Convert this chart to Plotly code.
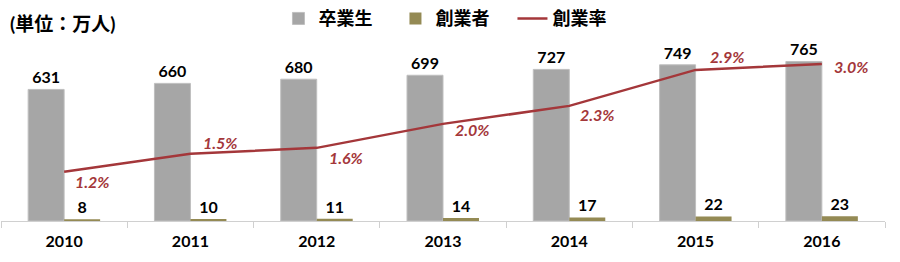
import plotly.graph_objects as go

years = ["2010", "2011", "2012", "2013", "2014", "2015", "2016"]
graduates = [631, 660, 680, 699, 727, 749, 765]
founders = [8, 10, 11, 14, 17, 22, 23]
rate = [1.2, 1.5, 1.6, 2.0, 2.3, 2.9, 3.0]

# styling: label pixel offsets for rate labels (dx, dy)
label_offsets = [(28, -10), (30, 11), (29, -10), (29, -6), (28, -9), (32, 13), (30, -3)]

FONT = "Lato, 'Noto Sans CJK JP', sans-serif"
GRAY = "#A6A6A6"
OLIVE = "#948A54"
RED = "#A4373A"

H_PAPER = 221.0   # paper height (262 - bottom margin)
DOM_TOP = 196.0 / H_PAPER

fig = go.Figure()
fig.add_trace(go.Bar(
    x=years, y=graduates, name="卒業生",
    marker=dict(color=GRAY, line=dict(color="#BFBFBF", width=1)),
    text=[str(v) for v in graduates], textposition="outside",
    textfont=dict(family=FONT, size=16, color="black", weight="bold"),
    cliponaxis=False,
))
fig.add_trace(go.Bar(
    x=years, y=founders, name="創業者",
    marker=dict(color=OLIVE, line=dict(width=0)),
    text=[str(v) for v in founders], textposition="outside",
    textfont=dict(family=FONT, size=16, color="black", weight="bold"),
    cliponaxis=False,
))
fig.add_trace(go.Scatter(
    x=years, y=rate, name="創業率", mode="lines", yaxis="y2",
    line=dict(color=RED, width=2.5),
))

for i, (r, (dx, dy)) in enumerate(zip(rate, label_offsets)):
    fig.add_annotation(
        x=i, y=r, xref="x", yref="y2", text=f"{r:.1f}%", showarrow=False,
        xshift=dx, yshift=dy,
        font=dict(family=FONT, size=16, color=RED, weight="bold", style="italic"),
    )

fig.add_annotation(
    xref="paper", yref="paper", x=0.008, y=1 - 20 / H_PAPER, xanchor="left", yanchor="middle",
    text="(単位：万人)", showarrow=False,
    font=dict(family=FONT, size=19, color="black", weight="bold"),
)

fig.update_layout(
    width=900, height=262,
    margin=dict(l=1, r=15, t=0, b=41),
    paper_bgcolor="white", plot_bgcolor="white",
    barmode="group", bargap=0.43, bargroupgap=0,
    showlegend=True,
    legend=dict(orientation="h", x=0.5124, xanchor="center", y=1 - 15 / H_PAPER, yanchor="middle",
                font=dict(family=FONT, size=18, color="black", weight="bold"),
                itemwidth=30, entrywidth=72, entrywidthmode="pixels",
                traceorder="normal", bgcolor="rgba(0,0,0,0)"),
    xaxis=dict(type="category", categoryorder="array", categoryarray=years,
               range=[-0.5, len(years) - 0.5],
               showline=True, linecolor="#D0D0D0", linewidth=1,
               ticks="outside", tickson="boundaries", ticklen=6, tickcolor="#D0D0D0",
               ticklabelstandoff=6,
               tickfont=dict(family=FONT, size=16, color="black", weight="bold"),
               showgrid=False),
    yaxis=dict(range=[0, 923], domain=[0, DOM_TOP], visible=False, showgrid=False),
    yaxis2=dict(range=[0.38, 3.59], overlaying="y", visible=False, showgrid=False),
)

fig.write_html("out.html")
